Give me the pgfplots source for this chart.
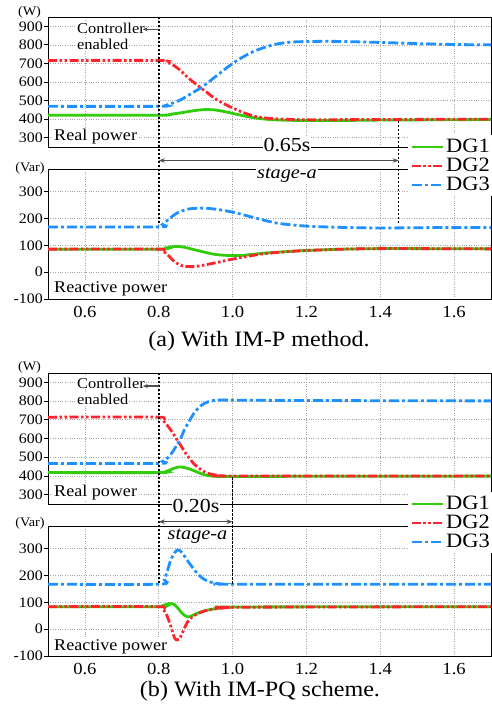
\documentclass[border=0pt]{standalone}
\usepackage{fontspec}
\setmainfont{Liberation Serif}[FakeStretch=1.1]
\usepackage{pgfplots}
\pgfplotsset{compat=1.18}
\usetikzlibrary{arrows.meta}
\definecolor{dgone}{RGB}{50,205,10}
\definecolor{dgtwo}{RGB}{255,35,45}
\definecolor{dgthree}{RGB}{30,144,255}
\newcommand{\fs}[1]{\fontsize{#1}{#1}\selectfont}
\pgfplotsset{
  base/.style={scale only axis, width=443bp, xmin=0.5, xmax=1.7,
    xtick={0.6,0.8,1.0,1.2,1.4,1.6},
    grid=major, major grid style={dotted, gray!70, line width=0.6bp},
    axis line style={line width=0.9bp},
    ytick pos=left, xtick pos=bottom, tick align=outside,
    major tick length=4bp, every tick/.style={black, line width=0.8bp},
    /pgf/number format/assume math mode=true,
    yticklabel style={font=\fs{14.5}, inner sep=1bp},
    xticklabel style={font=\fs{17}},
    xtick style={draw=none},
  },
  ptop/.style={base, height=130bp, ymin=250, ymax=950, ytick={300,400,...,900}, xticklabels={}},
  pbot/.style={base, height=130bp, ymin=-100, ymax=385, ytick={-100,0,100,200,300}, xticklabels={0.6,0.8,1.0,1.2,1.4,1.6}},
  g1/.style={dgone, line width=2.8bp, smooth, line cap=butt},
  g2/.style={dgtwo, line width=2.8bp, smooth, line cap=butt, dash pattern=on 9bp off 2.5bp on 2.5bp off 2.5bp on 2.5bp off 2.5bp},
  g3/.style={dgthree, line width=2.8bp, smooth, line cap=butt, dash pattern=on 10bp off 3bp on 3bp off 3bp},
  leg/.style={legend style={at={(0.813,1.26)}, anchor=north west, draw=none, fill=white, font=\fs{20.5}, inner sep=2bp, row sep=0bp, legend cell align=left},
    legend image code/.code={\draw[##1] (0bp,0bp) -- (31bp,0bp);}},
}
\tikzset{vline/.style={black, line width=1.5bp, dash pattern=on 2.4bp off 1.6bp},
  arr/.style={black!70, line width=1.3bp},
  lbl/.style={fill=white, inner sep=1bp}}
\begin{document}
\begin{tikzpicture}
\useasboundingbox (0,0) rectangle (492bp,-713bp);
% ---------------- (a) real power
\begin{axis}[ptop, at={(48bp,-147bp)}, anchor=south west]
\addplot[g1] coordinates {(0.5,421)(0.8,421)(0.83,426)(0.86,434)(0.89,444)(0.92,451)(0.95,450)(0.98,440)(1.0,431)(1.03,418)(1.06,407)(1.1,398)(1.15,394)(1.2,393)(1.3,393)(1.4,395)(1.5,396)(1.6,397)(1.7,398)};
\addplot[g2] coordinates {(0.5,716)(0.8,716)(0.82,708)(0.84,690)(0.86,660)(0.88,622)(0.9,590)(0.914,568)(0.93,545)(0.95,514)(0.975,485)(1.0,460)(1.03,435)(1.06,415)(1.1,404)(1.15,399)(1.2,397)(1.4,398)(1.7,400)};
\addplot[g3] coordinates {(0.5,469)(0.8,469)(0.82,475)(0.84,488)(0.86,505)(0.88,528)(0.9,552)(0.914,568)(0.93,592)(0.95,623)(0.975,662)(1.0,700)(1.03,737)(1.06,767)(1.1,795)(1.13,808)(1.16,815)(1.2,818)(1.25,819)(1.3,818)(1.4,813)(1.5,807)(1.6,802)(1.7,800)};
\coordinate (a1top) at (axis cs:0.8,950);
\coordinate (a1ctl) at (axis cs:0.8,884);
\coordinate (a1b) at (axis cs:1.45,392);
\end{axis}
% ---------------- (a) reactive power
\begin{axis}[pbot, leg, at={(48bp,-299bp)}, anchor=south west]
\addplot[g1] coordinates {(0.5,86)(0.8,86)(0.82,91)(0.847,96)(0.87,93)(0.89,86)(0.92,76)(0.95,67)(0.98,63)(1.02,62)(1.05,66)(1.085,71)(1.15,77)(1.2,81)(1.3,86)(1.4,88)(1.5,88)(1.7,87)};
\addplot[g2] coordinates {(0.5,86)(0.8,86)(0.81,80)(0.824,65)(0.842,40)(0.856,28)(0.87,22)(0.897,21)(0.92,26)(0.95,34)(1.0,49)(1.04,59)(1.085,69)(1.15,77)(1.2,81)(1.3,86)(1.4,88)(1.5,88)(1.7,87)};
\addplot[g3] coordinates {(0.5,169)(0.8,169)(0.81,178)(0.824,194)(0.84,212)(0.851,222)(0.87,232)(0.887,237)(0.923,239)(0.96,234)(1.0,224)(1.035,212)(1.068,200)(1.1,189)(1.13,181)(1.2,172)(1.3,167)(1.4,165)(1.5,166)(1.6,167)(1.7,167)};
\legend{DG1,DG2,DG3}
\coordinate (a2a) at (axis cs:0.8,176);
\coordinate (a2b) at (axis cs:1.45,183);
\end{axis}
% ---------------- (b) real power
\begin{axis}[ptop, at={(48bp,-504bp)}, anchor=south west, height=131bp]
\addplot[g1] coordinates {(0.5,418)(0.8,418)(0.82,424)(0.835,436)(0.851,447)(0.86,448)(0.869,445)(0.885,436)(0.9,424)(0.923,407)(0.95,398)(1.0,397)(1.2,398)(1.7,399)};
\addplot[g2] coordinates {(0.5,714)(0.8,714)(0.81,700)(0.824,668)(0.838,630)(0.851,588)(0.86,562)(0.869,532)(0.882,497)(0.896,463)(0.91,440)(0.923,423)(0.94,410)(0.96,404)(1.0,400)(1.7,400)};
\addplot[g3] coordinates {(0.5,467)(0.8,467)(0.81,478)(0.824,496)(0.838,530)(0.851,572)(0.86,603)(0.869,645)(0.882,690)(0.896,737)(0.91,768)(0.923,787)(0.94,800)(0.96,805)(1.0,805)(1.2,803)(1.7,801)};
\coordinate (b1top) at (axis cs:0.8,950);
\coordinate (b1ctl) at (axis cs:0.8,880);
\coordinate (b1b) at (axis cs:1.0,392);
\end{axis}
% ---------------- (b) reactive power
\begin{axis}[pbot, leg, at={(48bp,-656bp)}, anchor=south west]
\addplot[g1] coordinates {(0.5,84)(0.8,84)(0.815,90)(0.829,96)(0.84,94)(0.851,80)(0.865,57)(0.878,46)(0.89,50)(0.905,60)(0.925,69)(0.95,76)(0.98,81)(1.0,83)(1.7,84)};
\addplot[g2] coordinates {(0.5,84)(0.8,84)(0.81,76)(0.82,58)(0.833,10)(0.842,-30)(0.848,-40)(0.855,-38)(0.862,-20)(0.87,5)(0.878,27)(0.89,45)(0.905,58)(0.925,68)(0.95,75)(0.98,80)(1.0,82)(1.7,84)};
\addplot[g3] coordinates {(0.5,168)(0.8,168)(0.815,186)(0.825,225)(0.833,260)(0.843,285)(0.851,296)(0.86,290)(0.869,274)(0.882,248)(0.896,222)(0.91,200)(0.923,186)(0.94,176)(0.95,172)(0.97,169)(1.0,168)(1.7,168)};
\legend{DG1,DG2,DG3}
\coordinate (b2a) at (axis cs:0.8,167);
\coordinate (b2b) at (axis cs:1.0,166);
\end{axis}
% ---------------- annotations (a)
\node[anchor=base, font=\fs{13}] at (29.5bp,-15bp) {(W)};
\node[anchor=base, font=\fs{13}] at (30bp,-171bp) {(Var)};
\node[lbl, anchor=base west, font=\fs{16.5}] at (53bp,-140.7bp) {Real power};
\node[lbl, anchor=base west, font=\fs{16.5}] at (53bp,-292.7bp) {Reactive power};
\node[lbl, anchor=base west, font=\fs{15}] at (76bp,-33.3bp) {Controller};
\node[lbl, anchor=base west, font=\fs{15}] at (76bp,-49.3bp) {enabled};
\draw[vline] (a1top) -- (a2a);
\draw[vline] (a1b) -- (a2b);
\draw[arr, -{Stealth[length=5bp,width=4bp]}] (a1ctl) -- ++(-16bp,0);
\draw[arr, {Stealth[length=6bp,width=4.5bp]}-{Stealth[length=6bp,width=4.5bp]}] (a1top |- 0bp,-160.5bp) -- (a1b |- 0bp,-160.5bp);
\node[lbl, anchor=base, font=\fs{20}] at (287bp,-151.5bp) {0.65s};
\node[lbl, anchor=base, font=\itshape\fs{18.5}] at (287bp,-178.5bp) {stage-a};
\node[anchor=base, font=\fs{22}] at (259bp,-346.7bp) {(a) With IM-P method.};
% ---------------- annotations (b)
\node[anchor=base, font=\fs{13}] at (29.5bp,-370bp) {(W)};
\node[anchor=base, font=\fs{13}] at (30bp,-526bp) {(Var)};
\node[lbl, anchor=base west, font=\fs{16.5}] at (53bp,-496.7bp) {Real power};
\node[lbl, anchor=base west, font=\fs{16.5}] at (53bp,-650bp) {Reactive power};
\node[lbl, anchor=base west, font=\fs{15}] at (76bp,-388bp) {Controller};
\node[lbl, anchor=base west, font=\fs{15}] at (76bp,-404bp) {enabled};
\draw[vline] (b1top) -- (b2a);
\draw[vline] (b1b) -- (b2b);
\draw[arr, -{Stealth[length=5bp,width=4bp]}] (b1ctl) -- ++(-16bp,0);
\draw[arr, {Stealth[length=6bp,width=4.5bp]}-{Stealth[length=6bp,width=4.5bp]}] (b1top |- 0bp,-521.7bp) -- (b1b |- 0bp,-521.7bp);
\node[lbl, anchor=base, font=\fs{20}] at (196bp,-512.7bp) {0.20s};
\node[lbl, anchor=base, font=\itshape\fs{18.5}] at (197.5bp,-539bp) {stage-a};
\node[anchor=base, font=\fs{22}] at (260bp,-696.7bp) {(b) With IM-PQ scheme.};
\end{tikzpicture}
\end{document}
